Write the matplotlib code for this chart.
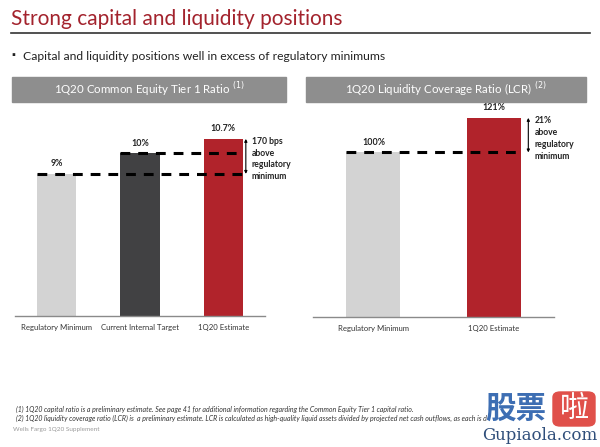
import matplotlib
matplotlib.use("Agg")
import matplotlib.pyplot as plt
from matplotlib.patches import Rectangle, FancyBboxPatch

plt.rcParams['font.family'] = ['Lato', 'DejaVu Sans']

# data
cet1_cats = ['Regulatory Minimum', 'Current Internal Target', '1Q20 Estimate']
cet1_vals = [9.0, 10.0, 10.7]
cet1_labels = ['9%', '10%', '10.7%']
lcr_cats = ['Regulatory Minimum', '1Q20 Estimate']
lcr_vals = [100, 121]
lcr_labels = ['100%', '121%']

GREY = '#d3d3d3'
DARK = '#414143'
RED = '#b1232b'

W, H = 600, 447
fig = plt.figure(figsize=(6, 4.47), dpi=100)


def fx(px):
    return px / W


def fy(py):
    return 1 - py / H


# title + rule
fig.text(fx(11), fy(19), 'Strong capital and liquidity positions', color='#a3232d',
         fontsize=15, va='center', ha='left')
fig.add_artist(plt.Line2D([fx(11), fx(590)], [fy(33), fy(33)], color='#333333', lw=1.2))
fig.text(fx(11), fy(56), '\u25aa', fontsize=7, va='center', color='#222222')
fig.text(fx(23), fy(56), 'Capital and liquidity positions well in excess of regulatory minimums',
         fontsize=8.7, va='center', color='#222222')

# panel headers
for x0, x1, txt in [(12, 286, '1Q20 Common Equity Tier 1 Ratio $^{(1)}$'),
                    (306, 586, '1Q20 Liquidity Coverage Ratio (LCR) $^{(2)}$')]:
    fig.add_artist(Rectangle((fx(x0), fy(102)), fx(x1 - x0), 25 / H, color='#8e8e8e',
                             transform=fig.transFigure))
    fig.text(fx((x0 + x1) / 2), fy(89.5), txt, color='white', fontsize=8.3,
             ha='center', va='center')


def style(ax):
    for s in ['top', 'right', 'left']:
        ax.spines[s].set_visible(False)
    ax.spines['bottom'].set_color('#8a8a8a')
    ax.spines['bottom'].set_linewidth(1.0)
    ax.set_yticks([])
    ax.tick_params(axis='x', length=0, pad=6, labelsize=5.6, labelcolor='#333333')
    ax.patch.set_alpha(0)


# left chart
ax1 = fig.add_axes([fx(15), fy(316), fx(250), 208 / H])
x1 = range(len(cet1_vals))
ax1.bar(x1, cet1_vals, width=0.47, color=[GREY, DARK, RED])
ax1.set_xlim(-0.5, 2.5)
ax1.set_ylim(2.1, 12.2)
ax1.set_xticks(list(x1))
ax1.set_xticklabels(cet1_cats)
style(ax1)
for xi, v, lab in zip(x1, cet1_vals, cet1_labels):
    ax1.annotate(lab, (xi, v), xytext=(0, 4), textcoords='offset points',
                 ha='center', va='bottom', fontsize=6.4, fontweight='bold', color='#222222')
ax1.plot([-0.235, 2.235], [cet1_vals[0]] * 2, ls=(0, (3.2, 2.6)), color='black', lw=2.2)
ax1.plot([1 - 0.235, 2.235], [cet1_vals[1]] * 2, ls=(0, (3.2, 2.6)), color='black', lw=2.2)
ax1.annotate('', xy=(2.27, cet1_vals[2]), xytext=(2.27, cet1_vals[0]),
             arrowprops=dict(arrowstyle='<|-|>', color='black', lw=0.8,
                             mutation_scale=4, shrinkA=0, shrinkB=0), annotation_clip=False)
ax1.text(2.34, cet1_vals[2] + 0.1, '170 bps\nabove\nregulatory\nminimum', fontsize=6.2,
         fontweight='bold', va='top', ha='left', linespacing=1.4, clip_on=False,
         color='#222222')

# right chart
ax2 = fig.add_axes([fx(313), fy(317), fx(241), 209 / H])
x2 = range(len(lcr_vals))
ax2.bar(x2, lcr_vals, width=0.45, color=[GREY, RED])
ax2.set_xlim(-0.504, 1.504)
ax2.set_ylim(0, 127)
ax2.set_xticks(list(x2))
ax2.set_xticklabels(lcr_cats)
style(ax2)
for xi, v, lab in zip(x2, lcr_vals, lcr_labels):
    ax2.annotate(lab, (xi, v), xytext=(0, 4), textcoords='offset points',
                 ha='center', va='bottom', fontsize=6.4, fontweight='bold', color='#222222')
ax2.plot([-0.225, 1.225], [lcr_vals[0]] * 2, ls=(0, (3.2, 2.6)), color='black', lw=2.2)
ax2.annotate('', xy=(1.29, lcr_vals[1]), xytext=(1.29, lcr_vals[0]),
             arrowprops=dict(arrowstyle='<|-|>', color='black', lw=0.8,
                             mutation_scale=4, shrinkA=0, shrinkB=0), annotation_clip=False)
ax2.text(1.345, lcr_vals[1] + 1.0, '21%\nabove\nregulatory\nminimum', fontsize=6.2,
         fontweight='bold', va='top', ha='left', linespacing=1.4, clip_on=False,
         color='#222222')

# footnotes
fig.text(fx(16), fy(409), '(1) 1Q20 capital ratio is a preliminary estimate. See page 41 for additional '
         'information regarding the Common Equity Tier 1 capital ratio.',
         fontsize=5.0, style='italic', va='center', color='#333333')
fig.text(fx(16), fy(418), '(2) 1Q20 liquidity coverage ratio (LCR) is  a preliminary estimate. LCR is '
         'calculated as high-quality liquid assets divided by projected net cash outflows, as each is d',
         fontsize=5.0, style='italic', va='center', color='#333333')
fig.text(fx(13), fy(429), 'Wells Fargo 1Q20 Supplement', fontsize=4.6, va='center', color='#999999')

# watermark
fig.text(fx(516), fy(409), '股票', family=['Noto Sans CJK SC'], fontsize=22, fontweight='bold',
         color='#3d6eb3', ha='center', va='center')
fig.add_artist(FancyBboxPatch((fx(553), fy(426)), fx(42), 34 / H,
                              boxstyle='round,pad=0,rounding_size=0.012',
                              color='#e0504a', transform=fig.transFigure))
fig.text(fx(574), fy(409), '啦', family=['Noto Sans CJK SC'], fontsize=21,
         color='white', ha='center', va='center')
fig.text(fx(540), fy(436), 'Gupiaola.com', family=['DejaVu Serif'], fontsize=12,
         color='#2f4e7a', ha='center', va='center')

fig.savefig('out.png', dpi=100)
